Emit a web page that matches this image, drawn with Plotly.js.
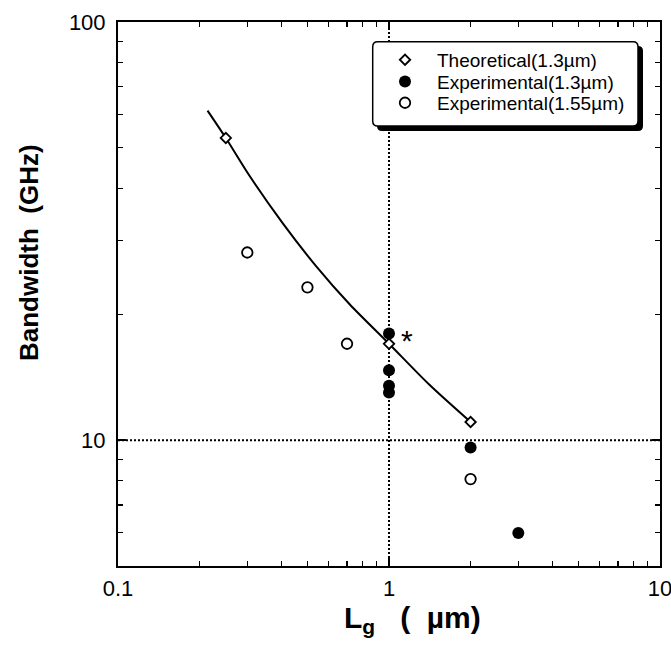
<!DOCTYPE html>
<html>
<head>
<meta charset="utf-8">
<script src="https://cdn.plot.ly/plotly-3.0.1.min.js"></script>
<style>html,body{margin:0;padding:0;background:#fff;}#chart{width:671px;height:651px;}</style>
</head>
<body>
<div id="chart"></div>
<script>
// ---- data ----
var theoX = [0.25, 1, 2];
var theoY = [52.8, 17.0, 11.05];

var exp13X = [1, 1, 1, 1, 2, 3];
var exp13Y = [18.0, 14.7, 13.5, 13.0, 9.6, 6.0];

var exp155X = [0.3, 0.5, 0.7, 2];
var exp155Y = [28.1, 23.2, 17.0, 8.07];

var fitX = [0.214, 0.25, 0.307, 0.407, 0.54, 0.717, 1, 1.41, 2];
var fitY = [61.4, 52.8, 42.7, 32.9, 26.0, 21.1, 17.0, 13.56, 11.05];

var refX = [1];   // vertical dotted reference line
var refY = [10];  // horizontal dotted reference line

var xRange = [0.1, 10];
var yRange = [5, 100];

var xTickVals = [0.1, 1, 10];
var xTickText = ['0.1', '1', '10'];
var yTickVals = [10, 100];
var yTickText = ['10', '100'];
var xMinor = [0.2,0.3,0.4,0.5,0.6,0.7,0.8,0.9,2,3,4,5,6,7,8,9];
var yMinor = [6,7,8,9,20,30,40,50,60,70,80,90];

var legendNames = ['Theoretical(1.3µm)', 'Experimental(1.3µm)', 'Experimental(1.55µm)'];

var FONT = 'Liberation Sans, Arial, Helvetica, sans-serif';
var dotted = {color: '#000', width: 2, dash: '2px,2px'};

var traces = [
  {x: [refX[0], refX[0]], y: yRange, mode: 'lines', line: dotted, showlegend: false, hoverinfo: 'skip'},
  {x: xRange, y: [refY[0], refY[0]], mode: 'lines', line: dotted, showlegend: false, hoverinfo: 'skip'},
  {x: fitX, y: fitY, mode: 'lines', line: {color: '#000', width: 2, shape: 'spline', smoothing: 0.8}, showlegend: false, hoverinfo: 'skip'},
  {x: theoX, y: theoY, mode: 'markers', name: legendNames[0], legend: 'legend',
   marker: {symbol: 'diamond', size: 8, color: '#fff', line: {color: '#000', width: 1.8}}},
  {x: exp13X, y: exp13Y, mode: 'markers', name: legendNames[1], legend: 'legend2',
   marker: {symbol: 'circle', size: 12, color: '#000', line: {color: '#000', width: 0}}},
  {x: exp155X, y: exp155Y, mode: 'markers', name: legendNames[2], legend: 'legend3',
   marker: {symbol: 'circle', size: 10.5, color: '#fff', line: {color: '#000', width: 1.8}}}
];

function px2x(p){ return (p - 118) / 542; }
function px2y(p){ return (566 - p) / 544; }

function legendAt(rowCenterPx){
  return {
    x: px2x(373), y: px2y(rowCenterPx - 18.4), xanchor: 'left', yanchor: 'top',
    bgcolor: 'rgba(0,0,0,0)', borderwidth: 0, itemwidth: 54,
    font: {size: 19, family: FONT, color: '#000'}
  };
}

function roundRect(x0, y0, x1, y1, r){
  // pixel corners -> paper coordinate path with rounded corners
  function P(x, y){ return px2x(x) + ',' + px2y(y); }
  return 'M' + P(x0 + r, y0) + ' L' + P(x1 - r, y0) + ' Q' + P(x1, y0) + ' ' + P(x1, y0 + r) +
         ' L' + P(x1, y1 - r) + ' Q' + P(x1, y1) + ' ' + P(x1 - r, y1) +
         ' L' + P(x0 + r, y1) + ' Q' + P(x0, y1) + ' ' + P(x0, y1 - r) +
         ' L' + P(x0, y0 + r) + ' Q' + P(x0, y0) + ' ' + P(x0 + r, y0) + ' Z';
}

var layout = {
  width: 671, height: 651,
  margin: {l: 118, r: 11, t: 22, b: 85, pad: 0},
  paper_bgcolor: '#fff', plot_bgcolor: '#fff',
  font: {family: FONT, color: '#000'},
  xaxis: {
    type: 'log', range: [Math.log10(xRange[0]), Math.log10(xRange[1])],
    tickmode: 'array', tickvals: xTickVals, ticktext: xTickText,
    ticks: 'inside', ticklen: 8, tickwidth: 1.5, tickcolor: '#000',
    minor: {tickmode: 'array', tickvals: xMinor, ticks: 'inside', ticklen: 5, tickwidth: 1.2, tickcolor: '#000', showgrid: false},
    showline: true, linewidth: 2, linecolor: '#000', mirror: 'ticks',
    showgrid: false, zeroline: false, ticklabeloverflow: 'allow',
    tickfont: {size: 22, family: FONT}, ticklabelstandoff: 2
  },
  yaxis: {
    type: 'log', range: [Math.log10(yRange[0]), Math.log10(yRange[1])],
    tickmode: 'array', tickvals: yTickVals, ticktext: yTickText,
    ticks: 'inside', ticklen: 8, tickwidth: 1.5, tickcolor: '#000',
    minor: {tickmode: 'array', tickvals: yMinor, ticks: 'inside', ticklen: 5, tickwidth: 1.2, tickcolor: '#000', showgrid: false},
    showline: true, linewidth: 2, linecolor: '#000', mirror: 'ticks',
    showgrid: false, zeroline: false, ticklabeloverflow: 'allow',
    tickfont: {size: 22, family: FONT}, ticklabelstandoff: 6
  },
  showlegend: true,
  legend: legendAt(59.3),
  legend2: legendAt(81),
  legend3: legendAt(102.3),
  shapes: [
    {type: 'path', xref: 'paper', yref: 'paper', path: roundRect(377, 46, 643, 131, 5),
     fillcolor: '#000', line: {width: 0}},
    {type: 'path', xref: 'paper', yref: 'paper', path: roundRect(372.7, 41.7, 638, 126, 5),
     fillcolor: '#fff', line: {color: '#000', width: 1.5}}
  ],
  annotations: [
    {xref: 'x', yref: 'y', x: Math.log10(exp13X[0]), y: Math.log10(exp13Y[0]), text: '*', showarrow: false,
     xshift: 18, yshift: -7, font: {size: 30, family: FONT, color: '#000'}},
    {xref: 'paper', yref: 'paper', x: px2x(412), y: px2y(619), xanchor: 'center', yanchor: 'middle',
     text: '<b>L<sub>g</sub>   (  µm)</b>', showarrow: false, font: {size: 30, family: FONT, color: '#000'}},
    {xref: 'paper', yref: 'paper', x: px2x(29), y: px2y(253), xanchor: 'center', yanchor: 'middle', textangle: -90,
     text: '<b>Bandwidth  (GHz)</b>', showarrow: false, font: {size: 26, family: FONT, color: '#000'}}
  ]
};

Plotly.newPlot('chart', traces, layout, {displayModeBar: false, staticPlot: true});
</script>
</body>
</html>
